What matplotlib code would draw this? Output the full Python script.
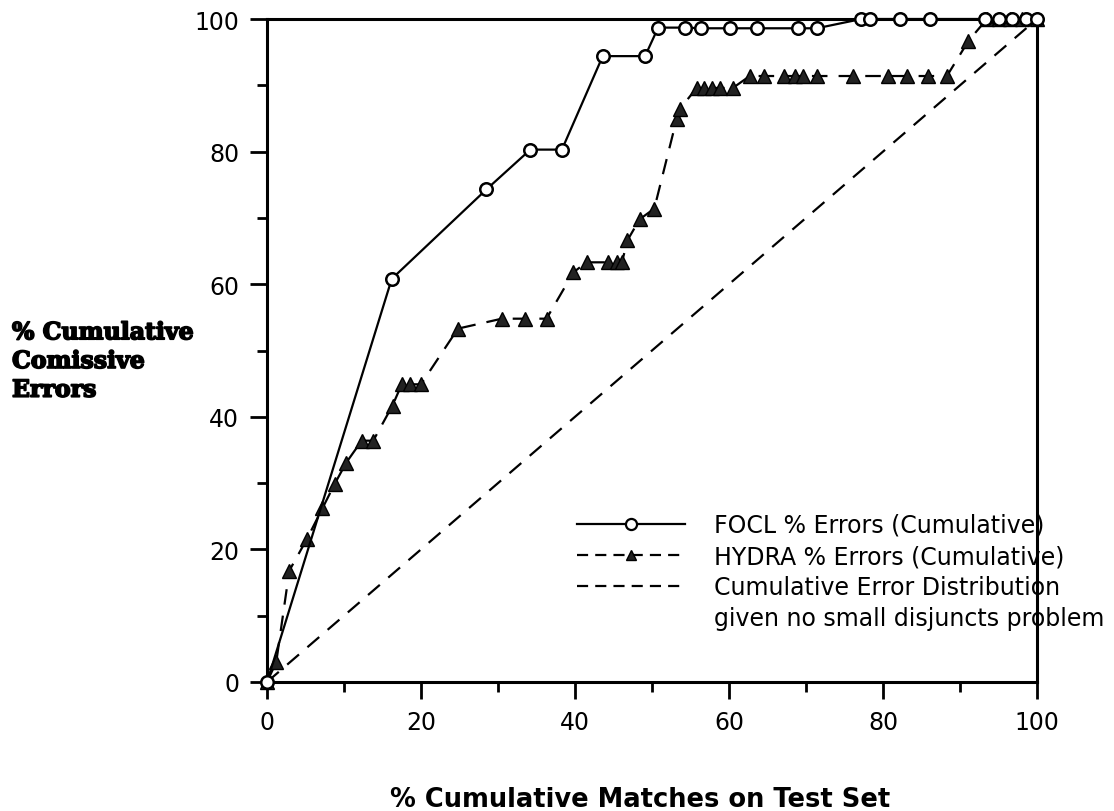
import matplotlib
matplotlib.use("Agg")
import matplotlib.pyplot as plt
import matplotlib.patheffects as pe
from matplotlib.lines import Line2D
from matplotlib.ticker import MultipleLocator

# ---- data ----
focl_x = [0, 16.2, 28.5, 34.2, 38.3, 43.6, 49.1, 50.8, 54.3, 56.4, 60.1, 63.6,
          69.0, 71.4, 77.2, 78.3, 82.2, 86.1, 93.2, 95.0, 96.8, 98.6, 100]
focl_y = [0, 60.8, 74.3, 80.3, 80.3, 94.4, 94.4, 98.7, 98.7, 98.6, 98.6, 98.6,
          98.6, 98.6, 100, 100, 100, 100, 100, 100, 100, 100, 100]

hydra_x = [0, 1.2, 2.9, 5.2, 7.2, 8.8, 10.3, 12.3, 13.8, 16.3, 17.5, 18.6, 20.0,
           24.8, 30.5, 33.5, 36.3, 39.8, 41.5, 44.3, 45.4, 46.1, 46.8, 48.4,
           50.3, 53.2, 53.6, 55.8, 56.8, 57.8, 58.8, 60.5, 62.7, 64.5, 67.1,
           68.6, 69.6, 71.4, 76.1, 80.7, 83.1, 85.9, 88.3, 91.1, 93.5, 95.0,
           96.5, 98.0, 100]
hydra_y = [0, 3.0, 16.8, 21.6, 26.2, 29.9, 33.1, 36.4, 36.4, 41.7, 44.9, 44.9,
           44.9, 53.3, 54.8, 54.8, 54.8, 61.8, 63.3, 63.3, 63.3, 63.3, 66.6,
           69.8, 71.4, 84.9, 86.4, 89.6, 89.6, 89.6, 89.6, 89.6, 91.4, 91.4,
           91.4, 91.4, 91.4, 91.4, 91.4, 91.4, 91.4, 91.4, 91.4, 96.7, 100,
           100, 100, 100, 100]

ref_x = [0, 100]
ref_y = [0, 100]

labels = ["FOCL % Errors (Cumulative)",
          "HYDRA % Errors (Cumulative)",
          "Cumulative Error Distribution",
          "given no small disjuncts problem"]
x_label = "% Cumulative Matches on Test Set"
y_label = "% Cumulative\nComissive\nErrors"
ticks = [0, 20, 40, 60, 80, 100]

# ---- figure ----
W, H, DPI = 1114, 812, 100
fig = plt.figure(figsize=(W / DPI, H / DPI), dpi=DPI)
ax = fig.add_axes([267 / W, 1 - 683 / H, (1037 - 267) / W, (683 - 20) / H])

lw = 1.6
ax.plot(ref_x, ref_y, color="black", lw=lw, dashes=(7, 5), clip_on=False)
ax.plot(hydra_x, hydra_y, color="black", lw=lw, dashes=(7, 5),
        marker="^", ms=9.5, mfc="#222222", mec="black", mew=1, clip_on=False)
ax.plot(focl_x, focl_y, color="black", lw=lw, linestyle="-",
        marker="o", ms=9, mfc="white", mec="black", mew=1.8, clip_on=False,
        zorder=3)

ax.set_xlim(0, 100)
ax.set_ylim(0, 100)
ax.set_xticks(ticks)
ax.set_yticks(ticks)
ax.xaxis.set_minor_locator(MultipleLocator(10))
ax.yaxis.set_minor_locator(MultipleLocator(10))
ax.tick_params(which="major", direction="out", length=12, width=2,
               labelsize=17, pad=8)
ax.tick_params(which="minor", direction="out", length=7, width=2)
for s in ax.spines.values():
    s.set_linewidth(2.2)

# legend
h1 = Line2D([], [], color="black", lw=lw, marker="o", ms=8, mfc="white",
            mec="black", mew=1.6)
h2 = Line2D([], [], color="black", lw=lw, dashes=(5, 3.2), marker="^", ms=7,
            mfc="#222222", mec="black")
h3 = Line2D([], [], color="black", lw=lw, dashes=(5, 3.2))
h4 = Line2D([], [], linestyle="none")
fs_leg = 17
fs_px = fs_leg * DPI / 72
leg = ax.legend([h1, h2, h3, h4], labels, loc="upper left",
                bbox_to_anchor=((577 - 267) / 770, (683 - 514) / 663),
                frameon=False, prop={"size": fs_leg},
                handlelength=108 / fs_px, handletextpad=29 / fs_px,
                labelspacing=0.3, borderpad=0, borderaxespad=0, numpoints=1)

# axis labels
fig.text(640 / W, 1 - 800 / H, x_label, ha="center", va="center",
         fontsize=18.5, fontweight="bold", family="DejaVu Sans")
fig.text(12 / W, 1 - 362 / H, y_label, ha="left", va="center",
         fontsize=17, fontweight="bold", family="DejaVu Serif",
         linespacing=1.25,
         path_effects=[pe.withStroke(linewidth=1.2, foreground="black")])

fig.savefig("out.png", dpi=DPI)
